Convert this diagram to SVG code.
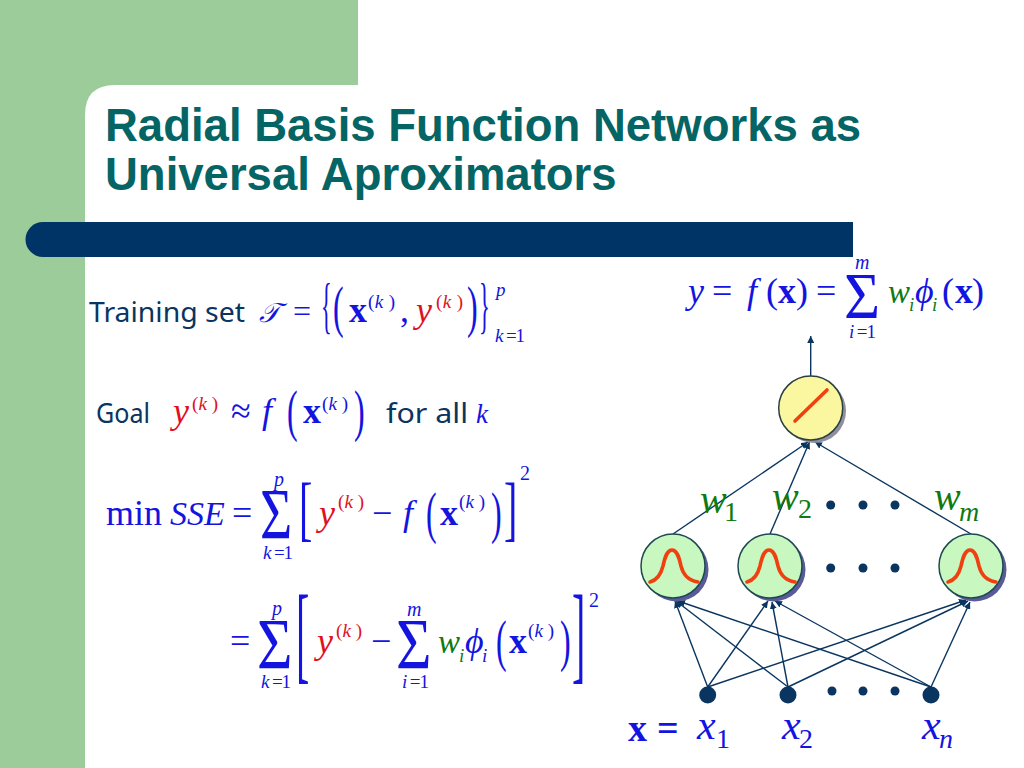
<svg xmlns="http://www.w3.org/2000/svg" width="1024" height="768" viewBox="0 0 1024 768">
<style>
text{font-family:"Liberation Serif","Times New Roman",serif;fill:#1414e0}
.i{font-style:italic}
.b{font-weight:bold}
.r{fill:#e0101e}
.g{fill:#0e7a12}
.t{font-family:"Liberation Sans",Arial,sans-serif;font-weight:bold;font-size:45.500px;fill:#056464}
.c{font-family:"Noto Sans","Open Sans",sans-serif;font-size:28px;fill:#0a3560}
.s{font-size:19px}
.u{font-size:20px}
.m{font-size:36px}
.p{font-size:32px}
.w{font-size:33px}
.n{font-size:40px}
.l{font-size:28px}
.e{stroke:#0a3560;stroke-width:1.400;fill:none}
.d{fill:#0a3560}
.sh{fill:#5a5a9a}
.cg{fill:#c8f7c0;stroke:#1d4a50;stroke-width:1.500}
.bump{fill:none;stroke:#f04010;stroke-width:3.600;stroke-linecap:round}
</style>
<defs>
<marker id="a" markerWidth="8" markerHeight="7" refX="7" refY="3.500" orient="auto" markerUnits="userSpaceOnUse"><path d="M0,0L7,3.500L0,7Z" fill="#0a3560"/></marker>
<path id="bp" class="bump" d="M-23,16C-15,14-12,8-10,0C-8,-9-6,-16-1,-16C4,-16,6,-9,8,0C10,8,14,14,25,16"/>
</defs>
<rect width="1024" height="768" fill="#fff"/>
<g id="background">
<path d="M0,0H358V85H115Q85,85,85,115V768H0Z" fill="#9ccc9a"/>
<path d="M43,222H853V257H43A17.500,17.500,0,0,1,43,222Z" fill="#003366"/>
</g>
<g id="title">
<text class="t" x="105" y="141">Radial Basis Function Networks as</text>
<text class="t" x="105" y="190">Universal Aproximators</text>
</g>
<g id="training-set">
<text class="c" x="89" y="322" textLength="156" lengthAdjust="spacingAndGlyphs">Training set</text>
<text class="i" x="259" y="322" font-size="27">𝒯</text>
<text class="p" x="293" y="322">=</text>
<text class="p" transform="translate(321,326) scale(.7,1.93)">{</text>
<text class="p" transform="translate(333,326) scale(1,1.8)">(</text>
<text class="m b" x="349" y="322">x</text>
<text class="s" x="368" y="308" textLength="27">(<tspan class="i">k</tspan> )</text>
<text class="m" x="400" y="322">,</text>
<text class="m i r" x="416" y="322">y</text>
<text class="s r" x="436" y="308" textLength="27">(<tspan class="i">k</tspan> )</text>
<text class="p" transform="translate(467,326) scale(1,1.8)">)</text>
<text class="p" transform="translate(479,326) scale(.7,1.93)">}</text>
<text class="s i" x="496" y="296">p</text>
<text class="s" x="495" y="342" textLength="30"><tspan class="i">k</tspan> =1</text>
</g>
<g id="goal">
<text class="c" x="96" y="423" textLength="54" lengthAdjust="spacingAndGlyphs">Goal</text>
<text class="m i r" x="173" y="423">y</text>
<text class="s r" x="192" y="410" textLength="26">(<tspan class="i">k</tspan> )</text>
<text class="m" x="231" y="423">≈</text>
<text class="m i" x="262" y="423">f</text>
<text class="p" transform="translate(287,430) scale(1,1.75)">(</text>
<text class="m b" x="303" y="423">x</text>
<text class="s" x="322" y="410" textLength="26">(<tspan class="i">k</tspan> )</text>
<text class="p" transform="translate(354,430) scale(1,1.75)">)</text>
<text class="c" x="386" y="423" textLength="82" lengthAdjust="spacingAndGlyphs">for all</text>
<text class="i" x="476" y="423" font-size="27">k</text>
</g>
<g id="sse">
<text class="m" x="106" y="525" font-size="35">min</text>
<text class="i" x="170" y="525" font-size="34">SSE</text>
<text class="m" x="232" y="525">=</text>
<text transform="translate(260,538) scale(.78,1)" font-size="71">Σ</text>
<text class="u i" x="279" y="486" text-anchor="middle">p</text>
<text class="s" x="263" y="559" textLength="30"><tspan class="i">k</tspan> =1</text>
<text transform="translate(299,532) scale(1,1.800)" font-size="40">[</text>
<text class="m i r" x="319" y="525">y</text>
<text class="s r" x="338" y="508" textLength="26">(<tspan class="i">k</tspan> )</text>
<text class="m" x="372" y="525">−</text>
<text class="m i" x="403" y="525">f</text>
<text class="p" transform="translate(426,532) scale(1,1.75)">(</text>
<text class="m b" x="440" y="525">x</text>
<text class="s" x="459" y="508" textLength="26">(<tspan class="i">k</tspan> )</text>
<text class="p" transform="translate(491,532) scale(1,1.75)">)</text>
<text transform="translate(504,532) scale(1,1.800)" font-size="40">]</text>
<text class="u" x="520" y="480">2</text>
</g>
<g id="expansion">
<text class="m" x="230" y="653">=</text>
<text transform="translate(257,668) scale(.86,1)" font-size="71">Σ</text>
<text class="u i" x="277" y="615" text-anchor="middle">p</text>
<text class="s" x="261" y="688" textLength="30"><tspan class="i">k</tspan> =1</text>
<text transform="translate(296,670) scale(1,2.700)" font-size="40">[</text>
<text class="m i r" x="317" y="653">y</text>
<text class="s r" x="336" y="637" textLength="26">(<tspan class="i">k</tspan> )</text>
<text class="m" x="371" y="653">−</text>
<text transform="translate(396,668) scale(.86,1)" font-size="71">Σ</text>
<text class="u i" x="407" y="616">m</text>
<text class="s" x="402" y="688" textLength="27"><tspan class="i">i</tspan> =1</text>
<text class="w i g" x="438" y="653">w</text>
<text class="s i g" x="459" y="662">i</text>
<text class="m i" x="465" y="653">ϕ</text>
<text class="s i" x="482" y="662">i</text>
<text class="p" transform="translate(496,660) scale(1,1.75)">(</text>
<text class="m b" x="509" y="653">x</text>
<text class="s" x="528" y="637" textLength="26">(<tspan class="i">k</tspan> )</text>
<text class="p" transform="translate(560,660) scale(1,1.75)">)</text>
<text transform="translate(572,670) scale(1,2.700)" font-size="40">]</text>
<text class="u" x="589" y="607">2</text>
</g>
<g id="output-formula">
<text class="m i" x="688" y="303">y</text>
<text class="m" x="712" y="303">=</text>
<text class="m i" x="747" y="303">f</text>
<text class="m" x="766" y="303">(</text>
<text class="m b" x="778" y="303">x</text>
<text class="m" x="796" y="303">)</text>
<text class="m" x="816" y="303">=</text>
<text transform="translate(844,318) scale(.94,1)" font-size="66">Σ</text>
<text class="u i" x="855" y="269">m</text>
<text class="s" x="849" y="338" textLength="27"><tspan class="i">i</tspan> =1</text>
<text class="w i g" x="888" y="303">w</text>
<text class="s i g" x="909" y="311">i</text>
<text class="m i" x="915" y="303">ϕ</text>
<text class="s i g" x="932" y="311">i</text>
<text class="m" x="942" y="303">(</text>
<text class="m b" x="955" y="303">x</text>
<text class="m" x="972" y="303">)</text>
</g>
<g id="connectors">
<line class="e" x1="810.700" y1="376" x2="810.700" y2="336" marker-end="url(#a)"/>
<line class="e" x1="673" y1="534" x2="808" y2="442" marker-end="url(#a)"/>
<line class="e" x1="770" y1="534" x2="809.500" y2="442" marker-end="url(#a)"/>
<line class="e" x1="971" y1="534" x2="815" y2="442" marker-end="url(#a)"/>
<line class="e" x1="707.700" y1="687" x2="675" y2="601" marker-end="url(#a)"/>
<line class="e" x1="707.700" y1="687" x2="768" y2="601" marker-end="url(#a)"/>
<line class="e" x1="707.700" y1="687" x2="966" y2="600" marker-end="url(#a)"/>
<line class="e" x1="788" y1="687" x2="676" y2="601" marker-end="url(#a)"/>
<line class="e" x1="788" y1="687" x2="772" y2="602" marker-end="url(#a)"/>
<line class="e" x1="788" y1="687" x2="968" y2="601" marker-end="url(#a)"/>
<line class="e" x1="931" y1="687" x2="678" y2="601" marker-end="url(#a)"/>
<line class="e" x1="931" y1="687" x2="775" y2="601" marker-end="url(#a)"/>
<line class="e" x1="931" y1="687" x2="970" y2="602" marker-end="url(#a)"/>
</g>
<g id="output-node">
<circle cx="814" cy="411" r="32" fill="#8f8f9f"/>
<circle cx="810.700" cy="408" r="32" fill="#fbf7a0" stroke="#2a3f40" stroke-width="1.500"/>
<line x1="795" y1="421" x2="827" y2="390" stroke="#f04010" stroke-width="3.600" stroke-linecap="round"/>
</g>
<g id="rbf-1">
<circle class="sh" cx="676.500" cy="569.500" r="32"/>
<circle class="cg" cx="673" cy="566" r="32"/>
<use href="#bp" x="673" y="566"/>
</g>
<g id="rbf-2">
<circle class="sh" cx="773.500" cy="569.500" r="32"/>
<circle class="cg" cx="770" cy="566" r="32"/>
<use href="#bp" x="770" y="566"/>
</g>
<g id="rbf-m">
<circle class="sh" cx="974.500" cy="569.500" r="32"/>
<circle class="cg" cx="971" cy="566" r="32"/>
<use href="#bp" x="971" y="566"/>
</g>
<g id="input-1"><circle class="d" cx="707.700" cy="695" r="8.500"/></g>
<g id="input-2"><circle class="d" cx="788" cy="695" r="8.500"/></g>
<g id="input-n"><circle class="d" cx="931" cy="695" r="8.500"/></g>
<g id="ellipsis">
<circle class="d" cx="830.700" cy="505" r="4.500"/><circle class="d" cx="863" cy="505" r="4.500"/><circle class="d" cx="895" cy="505" r="4.500"/>
<circle class="d" cx="830.700" cy="568" r="4.500"/><circle class="d" cx="863" cy="568" r="4.500"/><circle class="d" cx="895" cy="568" r="4.500"/>
<circle class="d" cx="832" cy="691" r="4.500"/><circle class="d" cx="863" cy="691" r="4.500"/><circle class="d" cx="895" cy="691" r="4.500"/>
</g>
<g id="weights">
<text class="n i g" x="700" y="513">w</text><text class="l g" x="724" y="521">1</text>
<text class="n i g" x="772" y="510">w</text><text class="l g" x="798" y="518">2</text>
<text class="n i g" x="934" y="510">w</text><text class="l i g" x="959" y="521">m</text>
</g>
<g id="inputs">
<text class="b" x="628" y="741" font-size="38">x</text><text class="b" x="657" y="741" font-size="38">=</text>
<text class="i" x="697" y="739" font-size="42">x</text><text class="l" x="716" y="748">1</text>
<text class="i" x="782" y="739" font-size="42">x</text><text class="l" x="799" y="748">2</text>
<text class="i" x="922" y="739" font-size="42">x</text><text class="l i" x="939" y="748">n</text>
</g>
</svg>
